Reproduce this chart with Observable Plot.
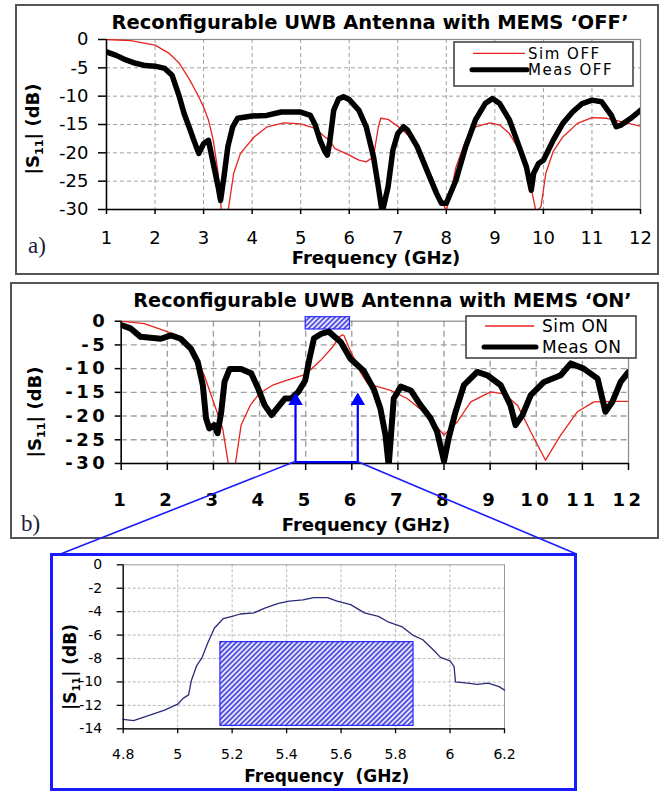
<!DOCTYPE html>
<html>
<head>
<meta charset="utf-8">
<script src="https://cdn.jsdelivr.net/npm/d3@7"></script>
<script src="https://cdn.jsdelivr.net/npm/@observablehq/plot@0.6"></script>
<style>
  html, body { margin: 0; padding: 0; background: #fff; }
  #root { position: relative; width: 665px; height: 792px; overflow: hidden; background: #fff; font-family: "DejaVu Sans", sans-serif; }
  .frame { position: absolute; box-sizing: border-box; }
  .layer { position: absolute; left: 0; width: 665px; }
  .layer svg { display: block; max-width: none; }
  #overlay { position: absolute; left: 0; top: 0; pointer-events: none; }
</style>
</head>
<body>
<svg width="0" height="0" style="position:absolute">
  <defs>
    <pattern id="hatch" patternUnits="userSpaceOnUse" width="3.6" height="3.6" patternTransform="rotate(45)">
      <rect width="3.6" height="3.6" fill="#e4e4ff"/>
      <line x1="1.8" y1="0" x2="1.8" y2="3.6" stroke="#3434d8" stroke-width="1.5"/>
    </pattern>
  </defs>
</svg>
<div id="root"></div>
<script>
// ---------- DATA ----------
// Panel a: MEMS OFF  [frequency GHz, |S11| dB]
const simOff = [[1,0],[1.5,-0.2],[2,-1.0],[2.3,-2.5],[2.5,-4.2],[2.7,-6.9],[2.9,-10.1],[3.0,-11.9],[3.1,-14.2],[3.2,-17.8],[3.3,-23.6],[3.37,-30.5],[3.5,-30.5],[3.62,-23.6],[3.76,-20.1],[4.04,-17.2],[4.31,-15.4],[4.65,-14.7],[5.0,-14.9],[5.3,-15.7],[5.5,-17.2],[5.6,-17.8],[5.7,-19.2],[6.0,-20.4],[6.2,-21.3],[6.35,-21.6],[6.5,-20.7],[6.6,-15.4],[6.65,-13.9],[6.8,-14.1],[7.0,-15.3],[7.3,-17.5],[7.5,-20.1],[7.7,-24.2],[7.9,-28.4],[8.0,-30.2],[8.1,-26.6],[8.2,-22.5],[8.4,-17.8],[8.6,-15.4],[8.9,-14.7],[9.1,-15.1],[9.3,-16.6],[9.5,-19.5],[9.7,-24.2],[9.85,-30.5],[9.95,-29.5],[10.05,-23.6],[10.2,-19.8],[10.4,-17.2],[10.7,-14.8],[11.0,-13.8],[11.3,-13.9],[11.6,-14.5],[12.0,-15.3]];
const measOff = [[1,-2.2],[1.2,-2.8],[1.4,-3.6],[1.6,-4.2],[1.8,-4.6],[2.0,-4.7],[2.2,-5.1],[2.35,-6.3],[2.5,-10.1],[2.6,-13.1],[2.7,-15.4],[2.8,-17.8],[2.9,-20.1],[3.0,-18.4],[3.1,-17.8],[3.2,-21.9],[3.3,-26],[3.35,-28.4],[3.42,-24.2],[3.5,-18.9],[3.6,-15.4],[3.7,-13.9],[4.0,-13.5],[4.3,-13.4],[4.6,-12.8],[5.0,-12.8],[5.2,-13.4],[5.3,-15.1],[5.4,-17.8],[5.5,-19.8],[5.55,-20.4],[5.6,-18.0],[5.68,-12.5],[5.78,-10.5],[5.88,-10.1],[6.0,-10.6],[6.2,-12.5],[6.35,-15.4],[6.5,-20.7],[6.6,-26],[6.68,-30.5],[6.8,-26],[6.9,-19.5],[7.0,-16.6],[7.12,-15.4],[7.2,-16.0],[7.4,-18.9],[7.6,-23.1],[7.8,-27.2],[7.9,-28.9],[8.0,-28.9],[8.2,-24.8],[8.4,-18.9],[8.6,-14.2],[8.8,-11.3],[8.95,-10.4],[9.1,-11.3],[9.3,-14.2],[9.5,-18.9],[9.65,-22.5],[9.75,-26.6],[9.8,-23.6],[9.9,-21.9],[10.0,-21.3],[10.2,-17.8],[10.4,-14.8],[10.6,-12.8],[10.8,-11.3],[11.0,-10.7],[11.2,-11.0],[11.4,-13.4],[11.5,-15.4],[11.6,-15.1],[11.8,-13.9],[12.0,-12.5]];

// Panel b: MEMS ON
const simOn = [[1,0],[1.5,-0.5],[2,-2.2],[2.3,-4.0],[2.6,-7.2],[2.8,-11.4],[3.0,-17.0],[3.2,-22.6],[3.33,-30.5],[3.47,-30.5],[3.6,-21.9],[3.8,-17.7],[4.0,-15.2],[4.3,-13.4],[4.6,-12.4],[5.0,-11.2],[5.32,-8.3],[5.58,-5.5],[5.72,-3.4],[5.79,-2.9],[5.83,-3.0],[5.97,-6.3],[6.1,-8.8],[6.2,-11.0],[6.35,-13.2],[6.6,-13.9],[6.84,-14.6],[7.2,-16.3],[7.56,-19.1],[8.0,-24.0],[8.29,-21.2],[8.58,-17.0],[9.01,-14.9],[9.3,-15.3],[9.59,-17.7],[9.88,-23.3],[10.2,-29.3],[10.53,-24.0],[10.89,-19.1],[11.25,-17.0],[11.69,-16.9],[12.0,-16.9]];
const measOn = [[1,-0.8],[1.2,-1.5],[1.42,-3.3],[1.64,-3.5],[1.86,-3.7],[2.08,-3.0],[2.29,-3.7],[2.51,-5.8],[2.66,-8.6],[2.77,-13.5],[2.84,-20.5],[2.91,-22.6],[3.02,-21.9],[3.09,-23.6],[3.17,-19.1],[3.24,-12.8],[3.35,-10.1],[3.6,-10.1],[3.82,-11.0],[3.97,-14.2],[4.11,-17.7],[4.26,-19.8],[4.4,-18.1],[4.55,-16.3],[4.69,-16.3],[4.84,-14.9],[4.99,-12.5],[5.08,-8.0],[5.18,-3.6],[5.35,-2.6],[5.5,-2.2],[5.76,-4.4],[5.97,-7.9],[6.05,-8.6],[6.26,-10.5],[6.48,-14.4],[6.62,-18.4],[6.73,-24.0],[6.8,-30.5],[6.91,-16.3],[7.06,-13.8],[7.28,-14.6],[7.49,-17.7],[7.71,-20.5],[7.85,-23.3],[8.0,-29.5],[8.1,-24.7],[8.25,-19.1],[8.43,-13.5],[8.72,-10.7],[8.94,-11.4],[9.23,-13.5],[9.44,-17.7],[9.55,-21.9],[9.7,-19.8],[9.88,-15.6],[10.17,-12.8],[10.53,-11.4],[10.75,-8.9],[11.03,-10.0],[11.33,-12.1],[11.5,-19.1],[11.65,-17.0],[11.83,-12.8],[12.0,-10.7]];
const bandB = [{x1: 5.0, x2: 5.96, y1: -1.75, y2: 0.85}];
const bracketX = [4.78, 4.78, 6.13, 6.13];
const bracketY = [-17.0, -29.7, -29.7, -17.0];
const arrowTips = [[4.78, -15.1], [6.13, -15.1]];

// Inset: zoom of measured MEMS ON, 4.8–6.2 GHz
const measZoom = [[4.8,-13.2],[4.838,-13.3],[4.876,-13.0],[4.914,-12.7],[4.952,-12.4],[4.99,-12.0],[5.0,-11.9],[5.02,-11.4],[5.04,-11.1],[5.05,-9.9],[5.07,-8.6],[5.09,-7.9],[5.11,-6.7],[5.135,-5.4],[5.167,-4.6],[5.2,-4.4],[5.23,-4.2],[5.28,-4.1],[5.32,-3.7],[5.37,-3.3],[5.41,-3.1],[5.46,-3.0],[5.5,-2.8],[5.55,-2.8],[5.585,-3.1],[5.635,-3.4],[5.686,-4.1],[5.737,-4.4],[5.775,-4.9],[5.825,-5.3],[5.863,-6.0],[5.9,-6.4],[5.94,-7.3],[5.965,-7.9],[6.0,-8.2],[6.015,-8.7],[6.02,-10.0],[6.065,-10.1],[6.1,-10.2],[6.14,-10.1],[6.18,-10.4],[6.2,-10.7]];
const bandC = [{x1: 5.157, x2: 5.866, y1: -13.75, y2: -6.6}];

// Tick labels / domains
const xDomain = [1, 12];
const yDomain = [-30, 0];
const xTicks = [1,2,3,4,5,6,7,8,9,10,11,12];
const yTicks = [0,-5,-10,-15,-20,-25,-30];
const xGrid = [2,3,4,5,6,7,8,9,10,11];
const yGrid = [-5,-10,-15,-20,-25];
const xDomainC = [4.8, 6.2];
const yDomainC = [-14, 0];
const xTicksC = [4.8, 5, 5.2, 5.4, 5.6, 5.8, 6, 6.2];
const yTicksC = [0,-2,-4,-6,-8,-10,-12,-14];
const xGridC = [5, 5.2, 5.4, 5.6, 5.8, 6];
const yGridC = [-2,-4,-6,-8,-10,-12];

const titleA = "Reconfigurable UWB Antenna with MEMS \u2018OFF\u2019";
const titleB = "Reconfigurable UWB Antenna with MEMS \u2018ON\u2019";
const xLabel = "Frequency (GHz)";
const legendA = ["Sim OFF", "Meas OFF"];
const legendB = ["Sim ON", "Meas ON"];

// ---------- RENDER ----------
const root = document.getElementById("root");
const fx = d => d[0], fy = d => d[1];
const tf = d => String(d);
const RED = "#e8231e";

function addFrame(left, top, w, h, border) {
  const d = document.createElement("div");
  d.className = "frame";
  Object.assign(d.style, {left: left + "px", top: top + "px", width: w + "px", height: h + "px", border});
  root.appendChild(d);
}
function addLayer(svg, top) {
  const d = document.createElement("div");
  d.className = "layer";
  d.style.top = top + "px";
  d.appendChild(svg);
  root.appendChild(d);
}

addFrame(15, 4, 644, 271, "2px solid #555");
addFrame(10, 282, 649, 257, "2px solid #555");
const inset = {left: 49.5, top: 553, width: 527, height: 238};
addFrame(inset.left, inset.top, inset.width, inset.height, "3px solid #1a1aff");

const baseStyle = {background: "transparent", fontFamily: "'DejaVu Sans', sans-serif", color: "#000", overflow: "visible"};

// Panel a
const plotA = Plot.plot({
  width: 665, height: 280,
  marginLeft: 106, marginRight: 25, marginTop: 39, marginBottom: 71,
  x: {domain: xDomain}, y: {domain: yDomain},
  style: {...baseStyle, fontSize: "18px"},
  marks: [
    Plot.gridX(xGrid, {stroke: "#a0a0a0", strokeOpacity: 1, strokeWidth: 1, strokeDasharray: "4,3"}),
    Plot.gridY(yGrid, {stroke: "#a0a0a0", strokeOpacity: 1, strokeWidth: 1, strokeDasharray: "4,3"}),
    Plot.frame({stroke: "#8a8a8a", strokeWidth: 1.2}),
    Plot.line(simOff, {x: fx, y: fy, stroke: RED, strokeWidth: 1.3, clip: true}),
    Plot.line(measOff, {x: fx, y: fy, stroke: "#000", strokeWidth: 5.5, clip: true}),
    Plot.ruleX([xDomain[0]], {stroke: "#000", strokeWidth: 1.5}),
    Plot.ruleY([yDomain[0]], {stroke: "#000", strokeWidth: 1.5}),
    Plot.axisX(xTicks, {tickSize: 5, tickPadding: 17, tickFormat: tf, fontSize: 18, label: null, strokeWidth: 1.5}),
    Plot.axisY(yTicks, {tickSize: 8, tickPadding: 10, tickFormat: tf, fontSize: 18, label: null, strokeWidth: 1.5})
  ]
});
addLayer(plotA, 0);

// Panel b
const plotB = Plot.plot({
  width: 665, height: 265,
  marginLeft: 120.7, marginRight: 37, marginTop: 42.7, marginBottom: 80,
  x: {domain: xDomain}, y: {domain: yDomain},
  style: {...baseStyle, fontSize: "18px", fontWeight: "bold", letterSpacing: "3.5px"},
  marks: [
    Plot.gridX(xGrid, {stroke: "#a0a0a0", strokeOpacity: 1, strokeWidth: 1.4, strokeDasharray: "6,4"}),
    Plot.gridY(yGrid, {stroke: "#a0a0a0", strokeOpacity: 1, strokeWidth: 1.4, strokeDasharray: "6,4"}),
    Plot.frame({stroke: "#8a8a8a", strokeWidth: 1.2}),
    Plot.rect(bandB, {x1: "x1", x2: "x2", y1: "y1", y2: "y2", fill: "url(#hatch)", stroke: "#2a2aff", strokeWidth: 1.2}),
    Plot.line(simOn, {x: fx, y: fy, stroke: RED, strokeWidth: 1.3, clip: true}),
    Plot.line(measOn, {x: fx, y: fy, stroke: "#000", strokeWidth: 6, clip: true}),
    Plot.ruleX([xDomain[0]], {stroke: "#000", strokeWidth: 1.5}),
    Plot.ruleY([yDomain[0]], {stroke: "#000", strokeWidth: 1.5}),
    Plot.line(bracketX.map((x, i) => [x, bracketY[i]]), {x: fx, y: fy, stroke: "#0000ff", strokeWidth: 2.2, strokeLinejoin: "miter"}),
    Plot.dot(arrowTips, {x: fx, y: fy, symbol: "triangle", r: 5.4, fill: "#0000ff", stroke: "none", dy: 8}),
    Plot.axisX(xTicks, {tickSize: 7, tickPadding: 23, tickFormat: tf, fontSize: 18, label: null, strokeWidth: 1.5}),
    Plot.axisY(yTicks, {tickSize: 6, tickPadding: 7, tickFormat: tf, fontSize: 18, label: null, strokeWidth: 1.5})
  ]
});
addLayer(plotB, 278);

// Inset
const plotC = Plot.plot({
  width: 665, height: 252,
  marginLeft: 122.7, marginRight: 161, marginTop: 24.3, marginBottom: 63.7,
  x: {domain: xDomainC}, y: {domain: yDomainC},
  style: {...baseStyle, fontSize: "14px"},
  marks: [
    Plot.gridX(xGridC, {stroke: "#b8b8b8", strokeOpacity: 1, strokeWidth: 1, strokeDasharray: "3,2"}),
    Plot.gridY(yGridC, {stroke: "#b8b8b8", strokeOpacity: 1, strokeWidth: 1, strokeDasharray: "3,2"}),
    Plot.frame({stroke: "#999", strokeWidth: 1}),
    Plot.rect(bandC, {x1: "x1", x2: "x2", y1: "y1", y2: "y2", fill: "url(#hatch)", stroke: "#2a2aff", strokeWidth: 1.2}),
    Plot.line(measZoom, {x: fx, y: fy, stroke: "#2b2b7a", strokeWidth: 1.3}),
    Plot.ruleX([xDomainC[0]], {stroke: "#000", strokeWidth: 1.3}),
    Plot.ruleY([yDomainC[0]], {stroke: "#000", strokeWidth: 1.3}),
    Plot.axisX(xTicksC, {tickSize: 5, tickPadding: 15.5, tickFormat: tf, fontSize: 14, label: null, strokeWidth: 1.3}),
    Plot.axisY(yTicksC, {tickSize: 6, tickPadding: 15, tickFormat: tf, fontSize: 14, label: null, strokeWidth: 1.3})
  ]
});
addLayer(plotC, 540);

// ---------- OVERLAY: titles, labels, legends, connectors ----------
const ov = d3.select(root).append("svg").attr("id", "overlay").attr("width", 665).attr("height", 792)
  .style("font-family", "'DejaVu Sans', sans-serif");

function capText(x, capCenter, size, str, opts = {}) {
  return ov.append("text").attr("x", x).attr("y", capCenter + 0.3645 * size)
    .attr("font-size", size).attr("font-weight", opts.weight || "normal")
    .attr("text-anchor", opts.anchor || "middle").attr("fill", opts.fill || "#000")
    .attr("letter-spacing", opts.ls || 0).style("white-space", "pre").text(str);
}
capText(370, 22, 19.5, titleA, {weight: "bold"});
capText(382.5, 300, 19.2, titleB, {weight: "bold"});
capText(376, 257, 18, xLabel, {weight: "bold"});
capText(366, 524.5, 18, xLabel, {weight: "bold"});
capText(326.7, 775.5, 17, "Frequency  (GHz)", {weight: "bold"});

function yLabel(cx, cy, size) {
  const t = ov.append("text").attr("transform", `translate(${cx + 0.3645 * size},${cy}) rotate(-90)`)
    .attr("text-anchor", "middle").attr("font-size", size).attr("font-weight", "bold").attr("fill", "#000");
  t.append("tspan").text("|S");
  t.append("tspan").attr("font-size", size * 0.62).attr("dy", size * 0.22).text("11");
  t.append("tspan").attr("dy", -size * 0.22).text("| (dB)");
}
yLabel(32.5, 129, 18);
yLabel(34.5, 412, 18);
yLabel(70, 667, 17);

ov.append("text").attr("x", 28).attr("y", 253).attr("font-family", "'Liberation Serif', serif")
  .attr("font-size", 23).attr("fill", "#1c1c3c").text("a)");
ov.append("text").attr("x", 21).attr("y", 531).attr("font-family", "'Liberation Serif', serif")
  .attr("font-size", 23).attr("fill", "#1c1c3c").text("b)");

function legend(x, y, w, h, labels, rows, lineX, textX, size, ls) {
  ov.append("rect").attr("x", x).attr("y", y).attr("width", w).attr("height", h)
    .attr("fill", "#fff").attr("stroke", "#444").attr("stroke-width", 1.6);
  ov.append("line").attr("x1", lineX[0]).attr("x2", lineX[1]).attr("y1", rows[0]).attr("y2", rows[0])
    .attr("stroke", RED).attr("stroke-width", 1.3);
  ov.append("line").attr("x1", lineX[0] - 1).attr("x2", lineX[1] + 2).attr("y1", rows[1]).attr("y2", rows[1])
    .attr("stroke", "#000").attr("stroke-width", 5).attr("stroke-linecap", "round");
  capText(textX, rows[0], size, labels[0], {anchor: "start", ls});
  capText(textX, rows[1], size, labels[1], {anchor: "start", ls});
}
legend(454, 42, 179, 44, legendA, [53.3, 69.7], [473, 525], 528, 15, 1.5);
legend(466, 316, 170, 42, legendB, [326, 347], [485, 534], 542, 17, 0.5);

// connectors from panel-b bracket to inset frame (positions from panel-b scales)
const sx = plotB.scale("x"), sy = plotB.scale("y");
const bx1 = sx.apply(bracketX[1]), bx2 = sx.apply(bracketX[2]);
const by = 278 + sy.apply(bracketY[1]);
ov.append("line").attr("x1", bx1).attr("y1", by).attr("x2", inset.left + 11).attr("y2", inset.top + 1)
  .attr("stroke", "#1a1aff").attr("stroke-width", 1.6);
ov.append("line").attr("x1", bx2).attr("y1", by).attr("x2", inset.left + inset.width).attr("y2", inset.top + 1)
  .attr("stroke", "#1a1aff").attr("stroke-width", 1.6);
</script>
</body>
</html>
